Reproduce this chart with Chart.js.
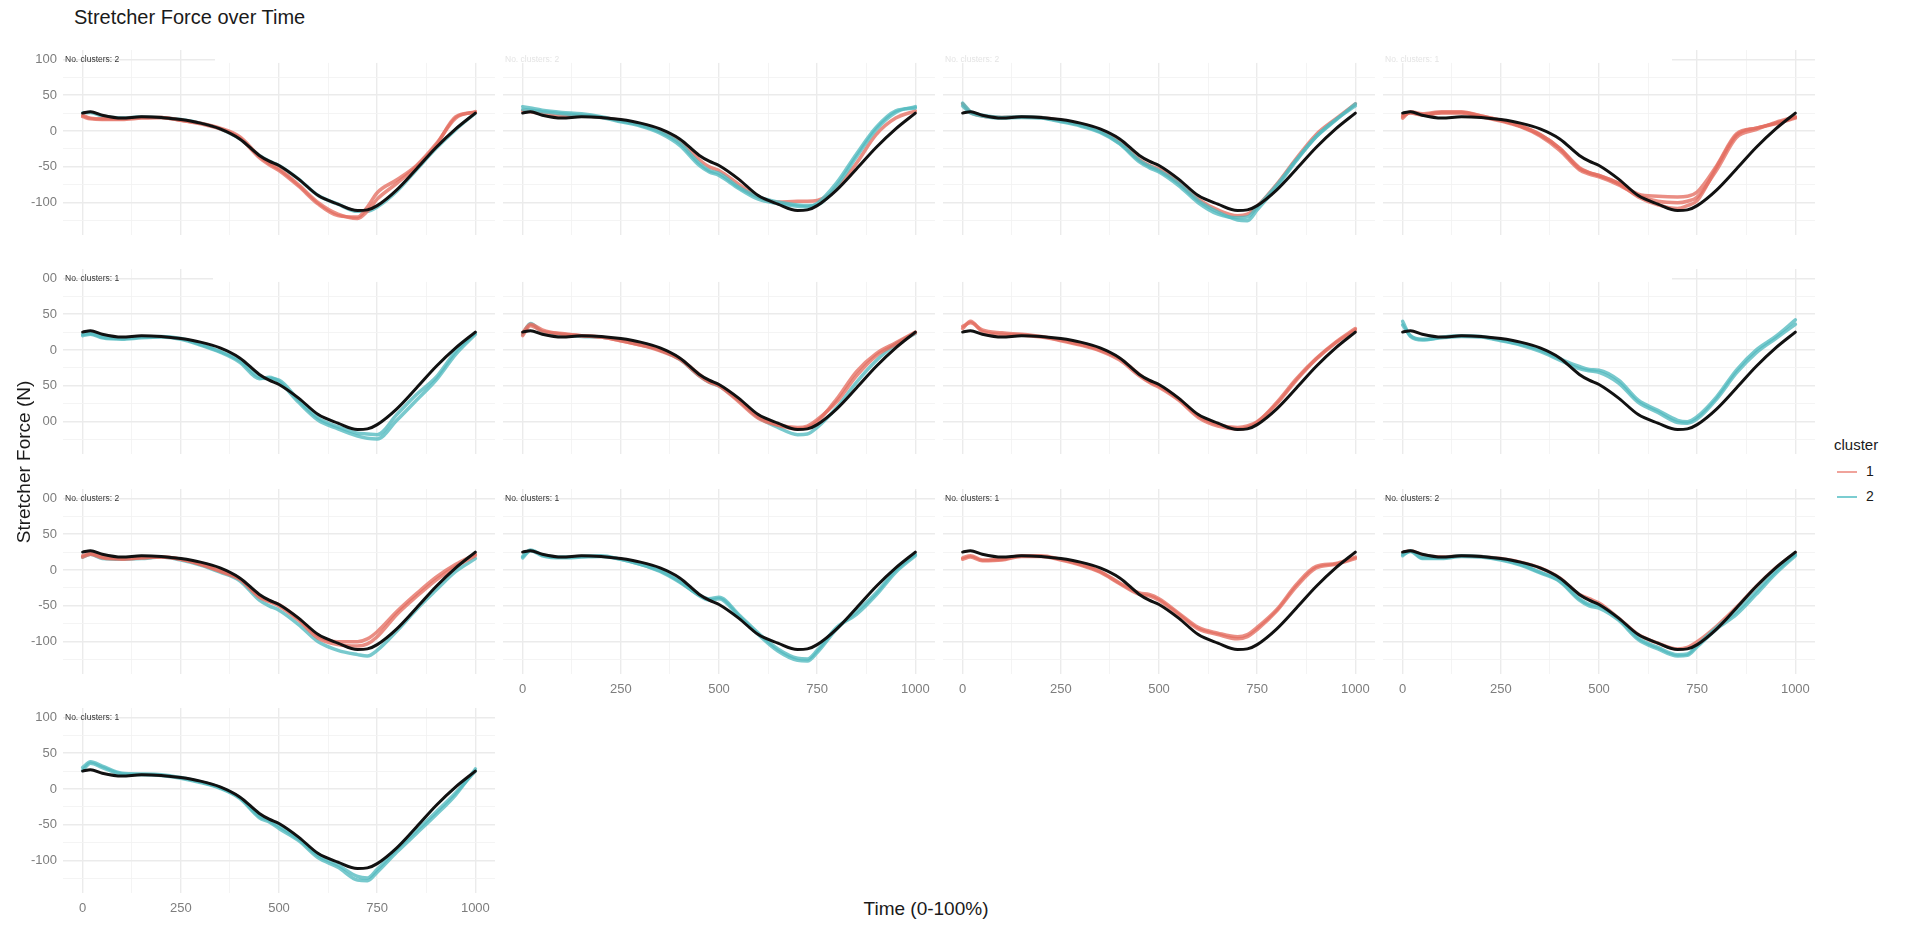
<!DOCTYPE html>
<html>
<head>
<meta charset="utf-8">
<title>Stretcher Force over Time</title>
<script src="https://cdn.jsdelivr.net/npm/chart.js@4.4.1/dist/chart.umd.min.js"></script>
<style>
  body { margin: 0; width: 1910px; height: 925px; background: #fff; position: relative; overflow: hidden;
         font-family: "Liberation Sans", Arial, sans-serif; }
  canvas { position: absolute; z-index: 1; }
  .txt { position: absolute; white-space: nowrap; z-index: 3; }
  #title { left: 74px; top: 6px; font-size: 20px; color: #1a1a1a; }
  #ycover { position: absolute; left: 0; top: 268px; width: 42px; height: 240px; background: #fff; z-index: 2; }
  #ytitle { left: 24px; top: 462px; font-size: 19px; color: #1a1a1a; transform: translate(-50%, -50%) rotate(-90deg); }
  #xtitle { left: 926px; top: 909px; font-size: 19px; color: #1a1a1a; transform: translate(-50%, -50%); }
  .nclu { font-size: 8.5px; line-height: 10px; color: #333; }
  .nclu.faint { color: #e4e4e4; }
  #legend { position: absolute; left: 1834px; top: 436px; z-index: 3; color: #1a1a1a; }
  #legend .head { font-size: 15px; margin-bottom: 8px; }
  #legend .row { height: 25px; position: relative; }
  #legend .key { position: absolute; left: 3px; top: 10px; width: 20px; height: 2px; }
  #legend .lab { position: absolute; left: 32px; top: 2px; font-size: 14px; }
</style>
</head>
<body>
<div id="title" class="txt">Stretcher Force over Time</div>
<div id="ycover"></div>
<div id="ytitle" class="txt">Stretcher Force (N)</div>
<div id="xtitle" class="txt">Time (0-100%)</div>
<div id="legend"></div>

<script>
// time (0-1000) at which every curve is sampled
var timePoints = [0, 20, 50, 100, 150, 200, 250, 300, 350, 400, 450, 475, 500, 550, 600, 650, 700, 725, 750, 800, 850, 900, 950, 1000];
var xTickValues = [0, 125, 250, 375, 500, 625, 750, 875, 1000];
var yTickValues = [-125, -100, -75, -50, -25, 0, 25, 50, 75, 100];
var clusterNames = ['1', '2'];
var clusterColors = ['rgba(228,110,98,0.78)', 'rgba(82,186,191,0.78)'];
var legendColors = ['rgba(236,140,130,0.8)', 'rgba(90,192,197,0.8)'];

// black curve, the same in every panel
var meanForce = [25, 27, 22, 18, 20, 19, 16, 11, 3, -11, -34, -42, -48, -67, -90, -102, -111, -110, -104, -82, -53, -23, 3, 25];

var p01_c1a = [20, 17, 16, 16, 18, 19, 15, 11, 4, -8, -35, -45, -53, -75, -100, -116, -122, -112, -95, -73, -50, -20, 20, 26];
var p01_c1b = [22, 18, 17, 17, 19, 19, 15, 10, 3, -10, -37, -47, -55, -77, -102, -118, -120, -106, -86, -68, -48, -18, 18, 27];
var p01_c2 = [25, 26, 21, 18, 20, 19, 16, 11, 3, -11, -34, -42, -48, -67, -90, -102, -112, -112, -106, -84, -54, -24, 2, 25];

var p02_c2a = [34, 32, 29, 26, 24, 20, 14, 8, -1, -17, -45, -55, -59, -78, -92, -99, -103, -104, -103, -76, -36, 2, 26, 34];
var p02_c2b = [30, 29, 27, 24, 22, 19, 13, 7, -3, -20, -48, -57, -62, -80, -95, -101, -105, -106, -101, -72, -32, 5, 28, 32];
var p02_c1 = [28, 27, 24, 21, 21, 19, 15, 9, 1, -13, -40, -50, -55, -74, -92, -99, -98, -98, -97, -80, -45, -5, 18, 28];

var p03_c2a = [39, 27, 22, 19, 20, 19, 14, 8, -1, -17, -41, -49, -55, -73, -97, -113, -124, -125, -110, -78, -41, -8, 15, 38];
var p03_c2b = [35, 25, 21, 18, 19, 18, 13, 7, -2, -18, -43, -51, -57, -76, -100, -116, -121, -120, -106, -75, -40, -8, 16, 35];
var p03_c1 = [38, 26, 21, 19, 20, 19, 15, 9, 0, -15, -40, -48, -53, -72, -95, -110, -118, -116, -105, -74, -38, -5, 17, 38];

var p04_c1a = [18, 27, 24, 27, 27, 21, 15, 7, -5, -24, -52, -58, -62, -73, -92, -103, -108, -104, -97, -50, -6, 4, 10, 18];
var p04_c1b = [22, 25, 22, 25, 25, 20, 14, 6, -7, -27, -54, -60, -64, -75, -90, -98, -100, -98, -92, -54, -9, 2, 12, 20];
var p04_c1c = [20, 26, 23, 26, 26, 21, 15, 7, -5, -24, -51, -58, -62, -73, -88, -91, -92, -91, -85, -48, -4, 4, 11, 19];

var p05_c2a = [22, 23, 18, 16, 18, 19, 16, 8, -2, -15, -38, -40, -42, -70, -95, -107, -116, -117, -118, -90, -62, -38, -2, 24];
var p05_c2b = [20, 22, 17, 15, 17, 18, 15, 7, -3, -17, -40, -38, -44, -73, -98, -110, -120, -123, -124, -98, -70, -42, -6, 22];

var p06_c1a = [20, 34, 26, 23, 20, 18, 13, 7, -1, -13, -36, -45, -50, -72, -95, -105, -110, -108, -100, -68, -30, -5, 10, 25];
var p06_c1b = [24, 36, 28, 22, 20, 18, 13, 7, 0, -12, -34, -44, -49, -70, -93, -104, -108, -106, -97, -72, -36, -8, 8, 24];
var p06_c2 = [22, 37, 25, 21, 19, 18, 14, 8, 0, -13, -36, -45, -50, -70, -94, -108, -118, -117, -108, -80, -45, -15, 8, 23];

var p07_c1a = [33, 38, 28, 24, 22, 19, 14, 8, 0, -12, -34, -44, -50, -68, -92, -104, -108, -106, -100, -75, -42, -13, 10, 28];
var p07_c1b = [30, 40, 26, 22, 21, 18, 13, 7, -1, -14, -36, -45, -52, -70, -94, -106, -110, -108, -101, -73, -40, -12, 11, 30];

var p08_c2a = [40, 19, 14, 18, 20, 19, 14, 8, 0, -12, -23, -27, -28, -42, -70, -84, -98, -100, -93, -65, -28, 0, 19, 42];
var p08_c2b = [35, 20, 15, 17, 19, 18, 13, 7, -2, -14, -26, -29, -31, -46, -73, -87, -101, -102, -96, -68, -32, -4, 16, 36];

var p09_c1a = [18, 22, 17, 15, 17, 18, 15, 8, -2, -13, -38, -44, -50, -70, -95, -104, -106, -103, -93, -62, -37, -14, 5, 20];
var p09_c1b = [20, 23, 18, 16, 17, 18, 15, 8, -1, -12, -36, -43, -48, -68, -92, -100, -100, -96, -86, -58, -33, -10, 8, 22];
var p09_c2 = [18, 22, 16, 15, 16, 18, 14, 7, -3, -15, -42, -50, -56, -76, -100, -112, -118, -120, -112, -85, -55, -28, -2, 16];

var p10_c2a = [17, 27, 20, 17, 18, 19, 15, 8, -2, -17, -35, -40, -38, -62, -88, -110, -123, -124, -112, -80, -62, -35, -3, 20];
var p10_c2b = [19, 28, 21, 18, 19, 20, 15, 8, -1, -16, -36, -42, -40, -64, -90, -113, -126, -127, -115, -82, -58, -32, 0, 22];

var p11_c1a = [17, 20, 14, 15, 20, 20, 15, 8, -2, -18, -32, -34, -40, -60, -80, -88, -93, -90, -80, -55, -20, 5, 9, 18];
var p11_c1b = [15, 18, 13, 14, 19, 19, 14, 7, -3, -19, -34, -36, -42, -62, -82, -90, -96, -93, -83, -57, -23, 3, 8, 16];

var p12_c2a = [20, 27, 17, 17, 20, 19, 15, 8, -3, -15, -40, -48, -50, -68, -95, -108, -118, -117, -105, -80, -58, -30, -2, 22];
var p12_c2b = [22, 26, 16, 16, 19, 18, 14, 7, -4, -16, -42, -50, -53, -70, -97, -110, -120, -119, -107, -82, -62, -34, -5, 20];
var p12_c1 = [24, 27, 21, 18, 20, 19, 16, 11, 3, -11, -34, -40, -46, -67, -90, -102, -110, -108, -100, -78, -52, -23, 3, 24];

var p13_c2a = [30, 38, 32, 22, 21, 20, 16, 10, 2, -12, -38, -44, -52, -70, -93, -106, -122, -124, -112, -84, -58, -32, -5, 25];
var p13_c2b = [26, 36, 30, 21, 20, 19, 15, 9, 1, -13, -40, -46, -55, -72, -96, -109, -127, -128, -116, -88, -62, -36, -8, 28];

// [cluster, values] for each panel, in reading order
var panelCurves = [
  [[1, p01_c1a], [1, p01_c1b], [2, p01_c2]],
  [[2, p02_c2a], [2, p02_c2b], [1, p02_c1]],
  [[2, p03_c2a], [2, p03_c2b], [1, p03_c1]],
  [[1, p04_c1a], [1, p04_c1b], [1, p04_c1c]],
  [[2, p05_c2a], [2, p05_c2b]],
  [[1, p06_c1a], [1, p06_c1b], [2, p06_c2]],
  [[1, p07_c1a], [1, p07_c1b]],
  [[2, p08_c2a], [2, p08_c2b]],
  [[1, p09_c1a], [1, p09_c1b], [2, p09_c2]],
  [[2, p10_c2a], [2, p10_c2b]],
  [[1, p11_c1a], [1, p11_c1b]],
  [[2, p12_c2a], [2, p12_c2b], [1, p12_c1]],
  [[2, p13_c2a], [2, p13_c2b]]
];
var clusterCounts = [2, 2, 2, 1, 1, 2, 1, 1, 2, 1, 1, 2, 1];
var labelStyle = ['dark', 'faint', 'faint', 'faint', 'dark', 'none', 'none', 'none', 'dark', 'dark', 'dark', 'dark', 'dark'];

// white strips over the top of some panels (page x range, null = panel edge)
var topMasks = [[215, null], [null, null], [null, null], [null, 1672],
                [213, null], [null, null], [null, null], [null, 1672]];

var AREA_W = 432, AREA_H = 185, LEFT_PAD = 50, BOTTOM_PAD = 30;
var Y_MIN = -145, Y_MAX = 113;

var topMask = {
  id: 'topMask',
  beforeDatasetsDraw: function (chart, args, opts) {
    if (!opts.range) return;
    var a = chart.chartArea, ctx = chart.ctx;
    var x0 = opts.range[0] == null ? a.left : opts.range[0] - opts.offset;
    var x1 = opts.range[1] == null ? a.right + 1 : opts.range[1] - opts.offset;
    var y1 = chart.scales.y.getPixelForValue(95);
    ctx.save();
    ctx.fillStyle = '#fff';
    ctx.fillRect(x0, a.top - 1, x1 - x0, y1 - a.top + 1);
    ctx.restore();
  }
};

function toPoints(vals) {
  return timePoints.map(function (t, k) { return { x: t, y: vals[k] }; });
}

panelCurves.forEach(function (curves, i) {
  var col = i % 4, row = Math.floor(i / 4);
  var areaLeft = Math.round(63 + col * 440), areaTop = Math.round(50 + row * 219.3);
  var canvasLeft = areaLeft - LEFT_PAD;
  var cv = document.createElement('canvas');
  cv.width = LEFT_PAD + AREA_W; cv.height = AREA_H + BOTTOM_PAD;
  cv.style.width = cv.width + 'px'; cv.style.height = cv.height + 'px';
  cv.style.left = canvasLeft + 'px'; cv.style.top = areaTop + 'px';
  document.body.appendChild(cv);

  var showY = col === 0;
  var showX = i >= 9;

  var datasets = [{
    data: toPoints(meanForce), borderColor: '#111', borderWidth: 3, order: 0
  }];
  curves.forEach(function (c) {
    datasets.push({
      data: toPoints(c[1]), borderColor: clusterColors[c[0] - 1], borderWidth: 3.5, order: 1
    });
  });

  new Chart(cv, {
    type: 'line',
    data: { datasets: datasets },
    options: {
      responsive: false,
      animation: false,
      events: [],
      layout: { padding: 0 },
      elements: {
        point: { radius: 0 },
        line: { cubicInterpolationMode: 'monotone', fill: false, borderCapStyle: 'round' }
      },
      scales: {
        x: {
          type: 'linear', min: -50, max: 1050,
          border: { display: false },
          grid: {
            drawTicks: false,
            color: function (c) { return c.tick && c.tick.value % 250 === 0 ? '#ebebeb' : '#f3f3f3'; },
            lineWidth: function (c) { return c.tick && c.tick.value % 250 === 0 ? 1.4 : 0.9; }
          },
          afterBuildTicks: function (s) { s.ticks = xTickValues.map(function (v) { return { value: v }; }); },
          afterFit: function (s) { s.height = BOTTOM_PAD; s.paddingLeft = 0; s.paddingRight = 0; },
          ticks: {
            display: showX, padding: 8, color: '#7d7d7d', maxRotation: 0, autoSkip: false,
            font: { family: '"Liberation Sans", Arial, sans-serif', size: 13 },
            callback: function (v) { return v % 250 === 0 ? String(v) : ''; }
          }
        },
        y: {
          type: 'linear', min: Y_MIN, max: Y_MAX,
          border: { display: false },
          grid: {
            drawTicks: false,
            color: function (c) { return c.tick && c.tick.value % 50 === 0 ? '#ebebeb' : '#f3f3f3'; },
            lineWidth: function (c) { return c.tick && c.tick.value % 50 === 0 ? 1.4 : 0.9; }
          },
          afterBuildTicks: function (s) { s.ticks = yTickValues.map(function (v) { return { value: v }; }); },
          afterFit: function (s) { s.width = LEFT_PAD; s.paddingTop = 0; s.paddingBottom = 0; },
          ticks: {
            display: showY, padding: 6, color: '#7d7d7d', autoSkip: false,
            font: { family: '"Liberation Sans", Arial, sans-serif', size: 13 },
            callback: function (v) { return v % 50 === 0 ? String(v) : ''; }
          }
        }
      },
      plugins: {
        legend: { display: false },
        tooltip: { enabled: false },
        topMask: { range: topMasks[i] || null, offset: canvasLeft }
      }
    },
    plugins: [topMask]
  });

  if (labelStyle[i] !== 'none') {
    var lab = document.createElement('div');
    lab.className = 'txt nclu' + (labelStyle[i] === 'faint' ? ' faint' : '');
    lab.textContent = 'No. clusters: ' + clusterCounts[i];
    var y100 = areaTop + (Y_MAX - 100) * AREA_H / (Y_MAX - Y_MIN);
    lab.style.left = (areaLeft + 2) + 'px';
    lab.style.top = Math.round(y100 - 5) + 'px';
    document.body.appendChild(lab);
  }
});

// figure legend
var legend = document.getElementById('legend');
var head = document.createElement('div');
head.className = 'head';
head.textContent = 'cluster';
legend.appendChild(head);
clusterNames.forEach(function (name, k) {
  var r = document.createElement('div');
  r.className = 'row';
  r.innerHTML = '<div class="key" style="background:' + legendColors[k] + '"></div><div class="lab">' + name + '</div>';
  legend.appendChild(r);
});
</script>
</body>
</html>
